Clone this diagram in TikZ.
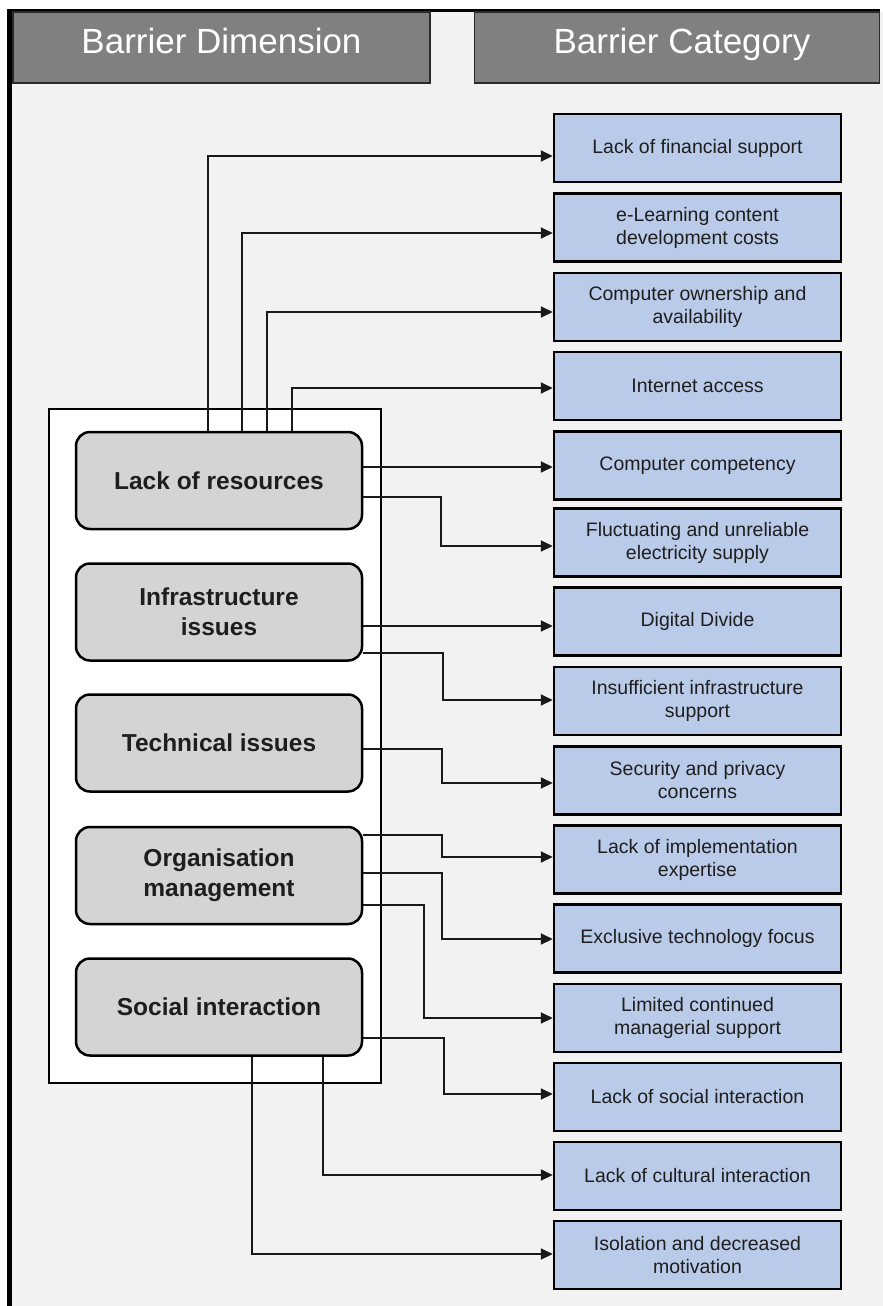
\documentclass[tikz,border=0pt]{standalone}
\usepackage{fontspec}
\setmainfont{Liberation Sans}
\usetikzlibrary{arrows.meta}
\definecolor{bgc}{HTML}{F2F2F2}
\definecolor{hdr}{HTML}{808080}
\definecolor{hdrline}{HTML}{2A2A2A}
\definecolor{dimc}{HTML}{D4D4D4}
\definecolor{catc}{HTML}{B9CBE8}
\definecolor{txt}{HTML}{1E1E1E}
\begin{document}
\begin{tikzpicture}[x=1pt,y=-1pt,
  hdrbox/.style={draw=hdrline, line width=1.8pt, fill=hdr, inner sep=0pt},
  hdrtext/.style={text=white, font=\fontsize{35}{40}\selectfont, anchor=base, inner sep=0pt},
  dimbox/.style={draw=black, line width=2.5pt, fill=dimc, rounded corners=14pt,
    minimum width=286pt, minimum height=97pt, align=center, inner sep=0pt,
    text=txt, font=\fontsize{24.5}{30}\bfseries\selectfont},
  catbox/.style={draw=black, line width=2.5pt, fill=catc, minimum width=287pt,
    minimum height=68pt, align=center, inner sep=0pt, text=txt,
    font=\fontsize{19.5}{23}\selectfont},
  outerbox/.style={draw=black, line width=2.5pt, fill=white},
  conn/.style={line width=2pt, draw=black!90, -{Triangle[length=12pt,width=11pt]}},
]
\useasboundingbox (0,0) rectangle (883,1306);
% background and frame
\fill[white] (0,0) rectangle (883,1306);
\fill[bgc] (12,12) rectangle (883,1306);
\fill[black] (7,9) rectangle (12,1306);
\fill[black] (7,9) rectangle (880,12);
% headers
\node[hdrbox, minimum width=417pt, minimum height=71pt] (hd) at (221.5,47.5) {};
\node[hdrbox, minimum width=405pt, minimum height=71pt] (hc) at (677,47.5) {};
\node[hdrtext] (hdt) at (221.5,53) {Barrier Dimension};
\node[hdrtext] (hct) at (682,53) {Barrier Category};
% outer white box
\node[outerbox, minimum width=332pt, minimum height=674pt, inner sep=0pt] (frame) at (215,746) {};
% dimension boxes
\node[dimbox] (LR) at (219,480.5) {Lack of resources};
\node[dimbox] (II) at (219,612) {Infrastructure\\issues};
\node[dimbox] (TI) at (219,743) {Technical issues};
\node[dimbox] (OM) at (219,875.5) {Organisation\\management};
\node[dimbox] (SI) at (219,1007) {Social interaction};
% category boxes
\node[catbox] (c0) at (697.5,148) {Lack of financial support};
\node[catbox] (c1) at (697.5,227.5) {e-Learning content\\development costs};
\node[catbox] (c2) at (697.5,307) {Computer ownership and\\availability};
\node[catbox] (c3) at (697.5,386) {Internet access};
\node[catbox] (c4) at (697.5,465.5) {Computer competency};
\node[catbox] (c5) at (697.5,542.5) {Fluctuating and unreliable\\electricity supply};
\node[catbox] (c6) at (697.5,621.5) {Digital Divide};
\node[catbox] (c7) at (697.5,701) {Insufficient infrastructure\\support};
\node[catbox] (c8) at (697.5,780.5) {Security and privacy\\concerns};
\node[catbox] (c9) at (697.5,859.5) {Lack of implementation\\expertise};
\node[catbox] (c10) at (697.5,938.5) {Exclusive technology focus};
\node[catbox] (c11) at (697.5,1018) {Limited continued\\managerial support};
\node[catbox] (c12) at (697.5,1097) {Lack of social interaction};
\node[catbox] (c13) at (697.5,1176) {Lack of cultural interaction};
\node[catbox] (c14) at (697.5,1255) {Isolation and decreased\\motivation};
% connectors from Lack of resources
\draw[conn] (LR.north -| 208,0) -- (208,156) -- (c0.west |- 0,156);
\draw[conn] (LR.north -| 242,0) -- (242,233) -- (c1.west |- 0,233);
\draw[conn] (LR.north -| 267,0) -- (267,312) -- (c2.west |- 0,312);
\draw[conn] (LR.north -| 292,0) -- (292,388) -- (c3.west |- 0,388);
\draw[conn] (LR.east |- 0,467) -- (c4.west |- 0,467);
\draw[conn] (LR.east |- 0,497) -- (441,497) -- (441,546) -- (c5.west |- 0,546);
% Infrastructure issues
\draw[conn] (II.east |- 0,626) -- (c6.west |- 0,626);
\draw[conn] (II.east |- 0,653) -- (443,653) -- (443,700) -- (c7.west |- 0,700);
% Technical issues
\draw[conn] (TI.east |- 0,749) -- (442,749) -- (442,783) -- (c8.west |- 0,783);
% Organisation management
\draw[conn] (OM.east |- 0,835) -- (442,835) -- (442,857) -- (c9.west |- 0,857);
\draw[conn] (OM.east |- 0,873) -- (442,873) -- (442,939) -- (c10.west |- 0,939);
\draw[conn] (OM.east |- 0,905) -- (424,905) -- (424,1018) -- (c11.west |- 0,1018);
% Social interaction
\draw[conn] (SI.east |- 0,1038) -- (444,1038) -- (444,1094) -- (c12.west |- 0,1094);
\draw[conn] (SI.south -| 323,0) -- (323,1175) -- (c13.west |- 0,1175);
\draw[conn] (SI.south -| 252,0) -- (252,1254) -- (c14.west |- 0,1254);
\end{tikzpicture}
\end{document}
